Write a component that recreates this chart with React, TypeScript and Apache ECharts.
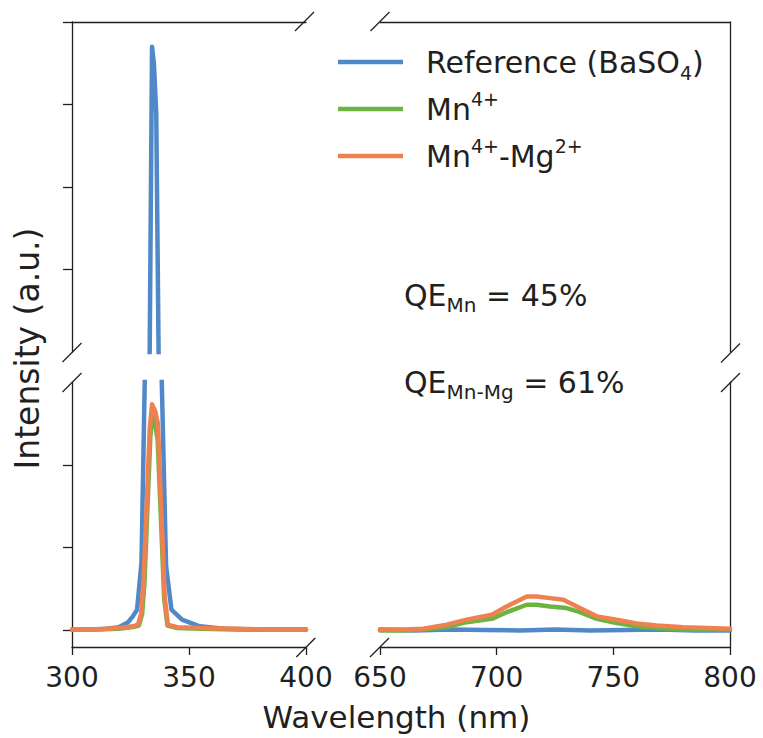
import React, { useEffect, useRef } from "react";
import * as echarts from "echarts";

// ---- data ----
const NAME_REF = "Reference (BaSO4)";
const NAME_MN = "Mn4+";
const NAME_MG = "Mn4+-Mg2+";

// excitation region (300-400 nm)
const refLeftX = [300, 305, 310, 315, 320, 324, 326, 327.8, 329.7, 331.1, 332, 333.2, 334.2, 335, 336, 337, 338.2, 340.2, 342.5, 347, 354.6, 365, 380, 400];
const refLeftY = [0.01, 0.01, 0.015, 0.02, 0.04, 0.1, 0.17, 0.25, 0.82, 3.03, 6.5, 10, 47, 45, 39, 10, 3.2, 0.78, 0.25, 0.13, 0.05, 0.02, 0.01, 0.01];

const mnLeftX = [300, 310, 320, 326, 328.6, 330, 331, 332.2, 333.5, 334.4, 335.5, 336.6, 338, 339.4, 340.8, 345, 355, 370, 400];
const mnLeftY = [0.01, 0.01, 0.02, 0.04, 0.06, 0.2, 0.6, 1.45, 2.35, 2.58, 2.5, 2.3, 1.35, 0.38, 0.06, 0.03, 0.02, 0.01, 0.01];

const mgLeftX = [300, 310, 320, 326, 328.2, 329.6, 330.6, 331.8, 333.2, 334.2, 335.5, 336.7, 338.2, 339.6, 341, 345, 355, 370, 385, 400];
const mgLeftY = [0.01, 0.01, 0.03, 0.05, 0.07, 0.21, 0.62, 1.42, 2.43, 2.73, 2.65, 2.5, 1.42, 0.41, 0.07, 0.04, 0.03, 0.02, 0.01, 0.01];

// emission region (650-800 nm)
const refRightX = [650, 665, 680, 695, 710, 725, 740, 755, 770, 785, 800];
const refRightY = [0.01, 0.0, 0.01, 0.005, 0.0, 0.01, 0.0, 0.005, 0.01, 0.0, 0.0];

const mnRightX = [650, 660, 668.6, 678.6, 687.1, 697.9, 704.3, 712.9, 717.1, 722.9, 730, 735.7, 742.9, 751.4, 760, 768.6, 780, 790, 800];
const mnRightY = [0.0, 0.0, 0.01, 0.04, 0.1, 0.14, 0.22, 0.31, 0.31, 0.29, 0.27, 0.22, 0.14, 0.09, 0.05, 0.03, 0.01, 0.01, 0.01];

const mgRightX = [650, 660, 668.6, 678.6, 687.1, 697.9, 704.3, 712.9, 717.1, 722.9, 728.6, 735.7, 742.9, 751.4, 760, 768.6, 780, 790, 800];
const mgRightY = [0.01, 0.01, 0.02, 0.07, 0.13, 0.19, 0.29, 0.41, 0.41, 0.39, 0.37, 0.27, 0.17, 0.13, 0.085, 0.06, 0.04, 0.03, 0.02];

const xLeftRange = [300, 400];
const xRightRange = [650, 800];
const yLowRange = [-0.2, 3];
const yHighRange = [10, 50];
const yLowTicks = [0, 1, 2];
const yHighTicks = [20, 30, 40, 50];
const qeTexts = ["45%", "61%"];

// ---- styles ----
const FONT = "'DejaVu Sans', Verdana, sans-serif";
const INK = "#231f20";
const C_REF = "#5088c8";
const C_MN = "#6db33f";
const C_MG = "#ef8150";
const LW = 4.5;

const zip = (xs: number[], ys: number[]) => xs.map((x, i) => [x, ys[i]]);

const axisLine = { show: true, onZero: false, lineStyle: { color: INK, width: 1.3 } };

export default function App() {
  const ref = useRef<HTMLDivElement>(null);

  useEffect(() => {
    if (!ref.current) return;
    const chart = echarts.init(ref.current, undefined, { renderer: "svg" });

    const line = (name: string, color: string, xi: number, data: number[][], z: number) => ({
      name,
      type: "line",
      xAxisIndex: xi,
      yAxisIndex: xi,
      data,
      showSymbol: false,
      symbol: "none",
      clip: true,
      z,
      itemStyle: { color },
      lineStyle: { color, width: LW, cap: "round", join: "round" },
    });

    const slash = (cx: number, cy: number) => ({
      type: "line",
      z: 100,
      shape: { x1: cx - 9.5, y1: cy + 9.5, x2: cx + 9.5, y2: cy - 9.5 },
      style: { stroke: INK, lineWidth: 1.3 },
    });

    const richMain = { fontSize: 30, lineHeight: 40, color: INK, fontFamily: FONT };
    const richSup = { fontSize: 19, lineHeight: 24, verticalAlign: "top", color: INK, fontFamily: FONT };
    const richSub = { fontSize: 19, lineHeight: 24, verticalAlign: "bottom", color: INK, fontFamily: FONT };

    const legendFmt = (name: string) => {
      if (name === NAME_REF) return "{m|Reference (BaSO}{sb|4}{m|)}";
      if (name === NAME_MN) return "{m|Mn}{sp|4+}";
      return "{m|Mn}{sp|4+}{m|-Mg}{sp|2+}";
    };

    const qeRich = {
      m: { fontSize: 30, lineHeight: 40, fill: INK, fontFamily: FONT },
      s: { fontSize: 20, lineHeight: 16, verticalAlign: "bottom", fill: INK, fontFamily: FONT },
    };

    chart.setOption({
      animation: false,
      backgroundColor: "#ffffff",
      grid: [
        { left: 72, top: 22, width: 234, height: 330 },
        { left: 72, top: 382, width: 234, height: 265 },
        { left: 380, top: 22, width: 350, height: 330 },
        { left: 380, top: 382, width: 350, height: 265 },
      ],
      xAxis: [
        { gridIndex: 0, type: "value", min: xLeftRange[0], max: xLeftRange[1], position: "top", axisLine, axisTick: { show: false }, axisLabel: { show: false }, splitLine: { show: false } },
        {
          gridIndex: 1, type: "value", min: xLeftRange[0], max: xLeftRange[1], interval: 50, position: "bottom", axisLine,
          axisTick: { show: true, length: 8, lineStyle: { color: INK, width: 1.3 } },
          axisLabel: { fontSize: 28, margin: 16, color: INK, fontFamily: FONT },
          splitLine: { show: false },
        },
        { gridIndex: 2, type: "value", min: xRightRange[0], max: xRightRange[1], position: "top", axisLine, axisTick: { show: false }, axisLabel: { show: false }, splitLine: { show: false } },
        {
          gridIndex: 3, type: "value", min: xRightRange[0], max: xRightRange[1], interval: 50, position: "bottom", axisLine,
          axisTick: { show: true, length: 8, lineStyle: { color: INK, width: 1.3 } },
          axisLabel: { fontSize: 28, margin: 16, color: INK, fontFamily: FONT },
          splitLine: { show: false },
        },
      ],
      yAxis: [
        {
          gridIndex: 0, type: "value", min: yHighRange[0], max: yHighRange[1], position: "left", axisLine,
          axisTick: { show: true, length: 9, customValues: yHighTicks, lineStyle: { color: INK, width: 1.3 } },
          axisLabel: { show: false }, splitLine: { show: false },
        },
        {
          gridIndex: 1, type: "value", min: yLowRange[0], max: yLowRange[1], position: "left", axisLine,
          axisTick: { show: true, length: 9, customValues: yLowTicks, lineStyle: { color: INK, width: 1.3 } },
          axisLabel: { show: false }, splitLine: { show: false },
        },
        { gridIndex: 2, type: "value", min: yHighRange[0], max: yHighRange[1], position: "right", axisLine, axisTick: { show: false }, axisLabel: { show: false }, splitLine: { show: false } },
        { gridIndex: 3, type: "value", min: yLowRange[0], max: yLowRange[1], position: "right", axisLine, axisTick: { show: false }, axisLabel: { show: false }, splitLine: { show: false } },
      ],
      legend: {
        data: [NAME_REF, NAME_MN, NAME_MG],
        orient: "vertical",
        left: 333,
        top: 37,
        itemWidth: 65,
        itemHeight: 4.5,
        itemGap: 7,
        icon: "rect",
        selectedMode: false,
        formatter: legendFmt,
        textStyle: {
          color: INK,
          fontFamily: FONT,
          fontSize: 30,
          lineHeight: 40,
          padding: [0, 0, 0, 18],
          rich: { m: richMain, sp: richSup, sb: richSub },
        },
      },
      series: [
        line(NAME_REF, C_REF, 0, zip(refLeftX, refLeftY), 2),
        line(NAME_REF, C_REF, 1, zip(refLeftX, refLeftY), 2),
        line(NAME_MN, C_MN, 1, zip(mnLeftX, mnLeftY), 3),
        line(NAME_MG, C_MG, 1, zip(mgLeftX, mgLeftY), 4),
        line(NAME_REF, C_REF, 3, zip(refRightX, refRightY), 2),
        line(NAME_MN, C_MN, 3, zip(mnRightX, mnRightY), 3),
        line(NAME_MG, C_MG, 3, zip(mgRightX, mgRightY), 4),
      ],
      graphic: [
        slash(304.5, 21.5),
        slash(380, 21.5),
        slash(72, 352.5),
        slash(72, 382.5),
        slash(305.8, 647.5),
        slash(379.5, 647.5),
        slash(730.5, 353),
        slash(730.5, 382.5),
        {
          type: "text", x: 396.5, y: 717, z: 100,
          style: { text: "Wavelength (nm)", fontSize: 31, fontFamily: FONT, fill: INK, align: "center", verticalAlign: "middle" },
        },
        {
          type: "text", x: 27, y: 348.5, rotation: Math.PI / 2, z: 100,
          style: { text: "Intensity (a.u.)", fontSize: 33, fontFamily: FONT, fill: INK, align: "center", verticalAlign: "middle" },
        },
        {
          type: "text", x: 404, y: 295, z: 100,
          style: { text: "{m|QE}{s|Mn}{m| = " + qeTexts[0] + "}", rich: qeRich, fill: INK, align: "left", verticalAlign: "middle" },
        },
        {
          type: "text", x: 404, y: 382, z: 100,
          style: { text: "{m|QE}{s|Mn-Mg}{m| = " + qeTexts[1] + "}", rich: qeRich, fill: INK, align: "left", verticalAlign: "middle" },
        },
      ],
    });

    return () => chart.dispose();
  }, []);

  return <div ref={ref} style={{ position: "fixed", left: 0, top: 0, width: 763, height: 738, background: "#fff" }} />;
}
